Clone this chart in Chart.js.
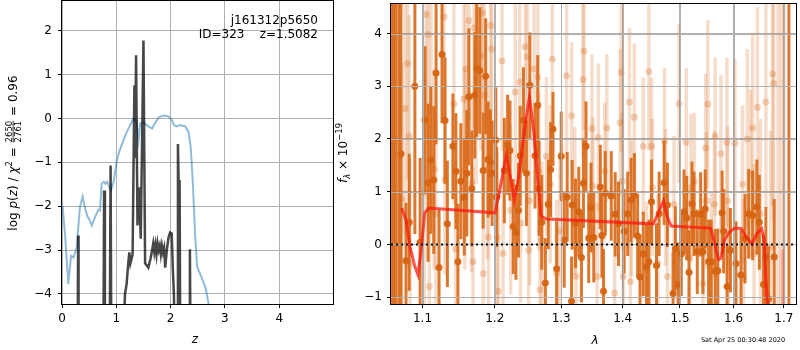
<!DOCTYPE html>
<html>
<head>
<meta charset="utf-8">
<script src="https://cdn.jsdelivr.net/npm/chart.js@4.4.1/dist/chart.umd.min.js"></script>
<style>
body{margin:0;background:#fff;}
#wrap{position:relative;width:800px;height:350px;}
canvas{position:absolute;top:0;}
#left_chart{left:0;}
#right_chart{left:334px;}
</style>
</head>
<body>
<div id="wrap">
<canvas id="left_chart" width="334" height="350"></canvas>
<canvas id="right_chart" width="466" height="350"></canvas>
</div>
<script>
// ---- left panel: log p(z) ----
const blueZ = [0.01,0.055,0.116,0.147,0.166,0.21,0.27,0.33,0.38,0.42,0.47,0.50,0.547,0.61,0.67,0.70,0.73,0.77,0.80,0.83,0.90,0.95,1.01,1.05,1.13,1.19,1.27,1.31,1.37,1.41,1.44,1.50,1.59,1.66,1.70,1.78,1.87,1.96,2.02,2.06,2.11,2.17,2.27,2.33,2.37,2.41,2.45,2.49,2.57,2.64,2.70,2.76,2.85];
const blueLogP = [-1.99,-2.63,-3.77,-3.39,-3.13,-3.17,-2.94,-2.02,-1.78,-2.02,-2.24,-2.29,-2.44,-2.25,-2.08,-2.10,-1.49,-1.44,-1.49,-1.44,-1.64,-1.45,-0.96,-0.77,-0.50,-0.31,-0.12,-0.01,-0.05,-0.50,-0.12,-0.09,-0.18,-0.23,-0.13,0.02,0.07,0.05,-0.03,-0.15,-0.18,-0.15,-0.18,-0.31,-0.65,-1.49,-2.63,-3.39,-3.62,-3.85,-4.23,-4.6,-5.2];

const darkZ = [0.285,0.297,0.305,0.76,0.775,0.79,0.875,0.895,0.91,1.10,1.16,1.19,1.22,1.24,1.26,1.28,1.30,1.333,1.345,1.364,1.39,1.42,1.45,1.50,1.53,1.59,1.63,1.66,1.68,1.70,1.72,1.74,1.76,1.78,1.80,1.82,1.84,1.86,1.88,1.90,1.93,1.96,1.99,2.02,2.04,2.06,2.09,2.12,2.135,2.15,2.165,2.18,2.345,2.355,2.37];
const darkLogP = [-6,-2.67,-6,-6,-1.64,-6,-6,-1.07,-6,-6,-4.0,-3.77,-3.3,-3.05,-3.3,-3.2,-3.1,0.75,-0.9,1.44,-2.44,-1.57,-2.74,1.78,-3.3,-3.4,-3.2,-3.0,-2.85,-3.05,-2.88,-3.1,-2.85,-3.0,-2.9,-3.1,-2.9,-3.05,-2.95,-3.4,-3.0,-2.72,-2.6,-2.62,-3.4,-4.0,-6,-6,-0.58,-1.6,-1.4,-6,-6,-2.98,-6];

const zTicks = [0,1,2,3,4];
const logPTicks = [-4,-3,-2,-1,0,1,2];

// ---- right panel: spectrum ----
const darkLam = [1.0600,1.0625,1.0650,1.0690,1.0718,1.0783,1.0825,1.0899,1.0968,1.1034,
  1.1074,1.1110,1.1150,1.1181,1.1221,1.1261,1.1302,1.1334,1.1410,1.1451,
  1.1479,1.1520,1.1567,1.1603,1.1631,1.1673,1.1715,1.1743,1.1785,1.1833,
  1.1870,1.1904,1.1937,1.1962,1.2015,1.2028,1.2139,1.2187,1.2222,1.2270,
  1.2310,1.2348,1.2373,1.2422,1.2467,1.2518,1.2597,1.2638,1.2658,1.2699,
  1.2754,1.2800,1.2836,1.2872,1.2929,1.3000,1.3047,1.3094,1.3163,1.3173,
  1.3226,1.3278,1.3321,1.3353,1.3395,1.3438,1.3475,1.3520,1.3627,1.3653,
  1.3680,1.3709,1.3808,1.3874,1.3929,1.4024,1.4085,1.4142,1.4198,1.4254,
  1.4295,1.4351,1.4408,1.4449,1.4494,1.4581,1.4628,1.4716,1.4774,1.4875,
  1.4917,1.4965,1.5024,1.5073,1.5122,1.5164,1.5219,1.5255,1.5316,1.5378,
  1.5421,1.5463,1.5526,1.5575,1.5649,1.5700,1.5781,1.5810,1.5876,1.5940,
  1.6047,1.6144,1.6222,1.6294,1.6372,1.6456,1.6504,1.6589,1.6635,1.6689,
  1.6803,1.7103];
const darkFlux = [5.5,5.5,5.5,5.5,1.72,-0.31,0.42,3.00,0.04,2.36,
  1.17,1.60,1.22,3.25,-0.44,3.60,2.35,0.39,1.86,1.39,
  -0.33,1.20,0.89,1.35,2.80,1.06,2.83,3.34,3.30,1.40,
  3.19,1.61,1.56,1.35,1.98,0.90,1.40,1.89,1.78,0.34,
  0.23,0.65,1.68,2.36,1.35,3.02,1.68,2.64,1.06,0.42,
  -0.73,0.76,1.42,2.19,-0.46,1.67,0.08,0.90,-1.08,0.75,
  0.40,0.62,-0.25,1.16,1.86,0.12,0.70,0.13,1.09,0.17,
  -0.89,0.97,0.92,0.57,0.39,0.25,0.58,0.84,0.93,0.16,
  -0.62,-0.18,-0.42,-0.33,0.81,-0.40,0.58,1.17,0.75,-0.93,
  -0.08,-0.76,-0.18,0.62,0.50,-0.53,0.77,0.58,-0.14,0.57,
  -0.14,0.67,-0.33,-0.33,-0.51,-0.50,0.60,0.25,-0.80,-0.11,
  -0.36,-0.58,0.11,0.58,0.55,0.71,0.42,-0.76,-0.24,-1.03,
  -0.24,5.5];
const darkErr = [20,20,20,20,4.0,1.1,1.3,2.8,1.6,1.4,
  1.5,1.4,1.4,1.35,1.1,1.3,1.2,1.2,1.0,1.1,
  1.1,1.1,1.1,1.2,1.3,1.1,1.2,1.3,1.2,1.1,
  1.1,1.1,1.0,1.0,1.0,0.95,1.0,0.95,0.95,0.9,
  0.9,0.9,0.95,1.0,1.0,1.0,1.0,0.95,0.9,0.9,
  0.85,0.85,0.9,0.7,0.9,0.85,0.9,0.85,0.85,0.85,
  0.85,0.85,0.85,0.85,0.85,0.85,0.85,0.85,0.8,0.8,
  0.8,0.8,0.85,0.8,0.8,0.8,0.8,0.8,0.8,0.8,
  0.8,0.8,0.8,0.8,0.8,0.8,0.8,0.8,0.8,0.8,
  0.8,0.8,0.8,0.8,0.8,0.8,0.8,0.8,0.8,0.8,
  0.8,0.75,0.8,0.8,0.8,0.8,0.8,0.8,0.8,0.8,
  0.8,0.85,0.85,0.85,0.85,0.9,0.9,0.95,0.95,1.0,
  1.1,20];

const lightLam = [1.0727,1.0770,1.0805,1.0825,1.0836,1.1023,1.1047,1.1077,1.1090,1.1113,
  1.1156,1.1178,1.1289,1.1300,1.1424,1.1447,1.1560,1.1575,1.1590,1.1634,
  1.1670,1.1690,1.1705,1.1733,1.1801,1.1822,1.1835,1.1850,1.1895,1.1910,
  1.1940,1.1955,1.2036,1.2050,1.2105,1.2120,1.2232,1.2300,1.2366,1.2380,
  1.2450,1.2480,1.2500,1.2515,1.2583,1.2640,1.2655,1.2670,1.2700,1.2770,
  1.2830,1.2862,1.2930,1.2980,1.3085,1.3165,1.3215,1.3235,1.3345,1.3362,
  1.3490,1.3505,1.3575,1.3595,1.3700,1.3735,1.3865,1.3957,1.3975,1.3995,
  1.4010,1.4114,1.4130,1.4150,1.4198,1.4351,1.4408,1.4449,1.4494,1.4510,
  1.4607,1.4723,1.4740,1.4775,1.4893,1.4983,1.5113,1.5172,1.5200,1.5262,
  1.5421,1.5470,1.5485,1.5512,1.5575,1.5636,1.5650,1.5759,1.5871,1.5885,
  1.5900,1.6027,1.6173,1.6190,1.6269,1.6333,1.6372,1.6400,1.6467,1.6525,
  1.6635,1.6730,1.6770,1.6790,1.6880,1.6940,1.7000];
const lightFlux = [0.86,2.58,3.43,2.05,-0.36,0.98,4.36,3.98,-0.80,2.58,
  1.42,0.58,4.32,1.23,2.67,-0.08,2.76,1.42,3.33,4.24,
  1.17,-0.33,4.11,2.94,3.58,4.39,-0.55,2.83,1.42,0.14,
  4.15,3.71,0.13,-0.89,3.48,-0.17,0.65,2.89,3.08,0.40,
  3.75,3.56,-0.11,0.83,3.33,3.17,1.39,-0.86,0.08,1.67,
  1.14,3.51,-0.55,0.26,3.20,2.44,0.83,-0.61,3.13,3.67,
  2.20,1.11,-0.61,2.03,1.39,2.21,-0.92,2.31,3.26,1.20,
  -0.61,2.70,-0.71,0.70,2.41,1.86,-0.49,3.28,1.86,1.08,
  -0.36,1.95,0.89,-0.61,0.76,2.67,1.94,-0.26,1.08,1.20,
  -0.74,1.83,0.83,2.66,-0.42,0.76,2.05,1.72,1.94,0.83,
  -0.80,1.92,1.14,-0.64,2.00,1.33,2.21,-0.17,2.60,0.58,
  2.70,-0.05,3.23,3.05,5.5,5.5,5.5];
const lightErr = [2.6,2.4,2.2,2.3,2.0,2.2,2.3,2.1,2.0,2.0,
  1.9,1.9,2.0,1.8,1.9,1.7,1.8,1.9,1.8,1.9,
  1.7,1.8,1.9,1.8,1.8,1.9,1.7,1.8,1.7,1.8,
  1.8,1.7,1.6,1.6,1.7,1.6,1.6,1.7,1.6,1.5,
  1.7,1.6,1.5,1.6,1.5,1.6,1.5,1.5,1.5,1.5,
  1.5,1.6,1.4,1.5,1.5,1.4,1.4,1.4,1.5,1.5,
  1.4,1.3,1.4,1.4,1.3,1.4,1.3,1.4,1.5,1.3,
  1.3,1.4,1.3,1.3,1.4,1.3,1.3,1.5,1.3,1.3,
  1.3,1.4,1.3,1.3,1.3,1.5,1.4,1.3,1.4,1.3,
  1.4,1.4,1.3,1.6,1.4,1.4,1.5,1.5,1.6,1.4,
  1.5,1.6,1.5,1.5,1.7,1.6,1.8,1.7,1.9,1.8,
  2.0,2.2,2.5,2.6,20,20,20];

const modelLam = [1.0727,1.0783,1.0836,1.0899,1.0940,1.0985,1.1029,1.1083,1.2004,1.2071,1.2170,1.2231,1.2286,1.2356,1.2440,1.2512,1.2583,1.2641,1.2689,1.2778,1.4524,1.4607,1.4703,1.4775,1.4843,1.5563,1.5623,1.5713,1.5762,1.5824,1.5917,1.6024,1.6150,1.6246,1.6362,1.6451,1.6549,1.6602,1.6636,1.6668,1.6690];
const modelFlux = [0.69,0.46,-0.05,-0.42,-0.58,-0.05,0.60,0.69,0.60,1.02,1.70,1.26,0.84,1.33,2.20,2.80,2.08,1.17,0.53,0.48,0.39,0.58,0.82,0.52,0.35,0.31,0.08,-0.29,-0.26,0.08,0.23,0.31,0.30,0.14,0.01,0.20,0.30,0.08,-0.73,-1.11,-2.5];
const fadeLam = [1.6966,1.6975];
const fadeFlux = [-0.1,-3.0];
const zeroLam = [1.059,1.725];
const zeroFlux = [0,0];

const lamTicks = [1.1,1.2,1.3,1.4,1.5,1.6,1.7];
const fluxTicks = [-1,0,1,2,3,4];

Chart.defaults.font.family = '"DejaVu Sans", sans-serif';
Chart.defaults.font.size = 12;
Chart.defaults.color = "#000";

const N = '12px "DejaVu Sans"';
const I = 'italic 12px "DejaVu Sans"';
const S = '8.5px "DejaVu Sans"';
const SI = 'italic 8.5px "DejaVu Sans"';

function pts(xs, ys){
    return xs.map(function(x, i){ return {x: x, y: ys[i]}; });
}

function minus(v){
    return String(v).replace("-", "\u2212");
}

// draws a row of text pieces centred on 0 (used for the rotated labels)
function drawRuns(ctx, runs){
    let total = 0;
    runs.forEach(function(r){
        ctx.font = r.font;
        if(r.frac){
            r.w = Math.max(ctx.measureText(r.frac[0]).width, ctx.measureText(r.frac[1]).width) + 2;
        } else {
            r.w = ctx.measureText(r.t).width;
        }
        total += r.w;
    });
    let x = -total / 2;
    ctx.textAlign = "left";
    runs.forEach(function(r){
        ctx.font = r.font;
        if(r.frac){
            ctx.textAlign = "center";
            ctx.fillText(r.frac[0], x + r.w / 2, -5.5);
            ctx.fillText(r.frac[1], x + r.w / 2, 4.2);
            ctx.textAlign = "left";
            ctx.fillRect(x + 1, -4.3, r.w - 2, 0.8);
        } else {
            ctx.fillText(r.t, x, r.dy || 0);
        }
        x += r.w;
    });
}

function drawFrame(chart){
    const a = chart.chartArea, ctx = chart.ctx;
    ctx.save();
    ctx.strokeStyle = "#000";
    ctx.lineWidth = 1;
    ctx.strokeRect(Math.round(a.left) - 0.5, Math.round(a.top) - 0.5,
        Math.round(a.right - a.left) + 1, Math.round(a.bottom - a.top) + 1);
    ctx.restore();
}

function drawGrid(chart){
    const a = chart.chartArea, ctx = chart.ctx;
    const xs = chart.scales.x, ys = chart.scales.y;
    ctx.save();
    ctx.strokeStyle = "#b0b0b0";
    ctx.lineWidth = 1;
    ctx.beginPath();
    xs.ticks.forEach(function(t){
        const p = Math.round(xs.getPixelForValue(t.value)) + 0.5;
        ctx.moveTo(p, a.top); ctx.lineTo(p, a.bottom);
    });
    ys.ticks.forEach(function(t){
        const p = Math.round(ys.getPixelForValue(t.value)) + 0.5;
        ctx.moveTo(a.left, p); ctx.lineTo(a.right, p);
    });
    ctx.stroke();
    ctx.restore();
}

const errorBars = {
    id: "errorBars",
    beforeDatasetDraw(chart, args){
        const ds = chart.data.datasets[args.index];
        if(!ds.errs) return;
        const xs = chart.scales.x, ys = chart.scales.y, a = chart.chartArea, ctx = chart.ctx;
        ctx.save();
        ctx.beginPath();
        ctx.rect(a.left, a.top, a.right - a.left, a.bottom - a.top);
        ctx.clip();
        ctx.strokeStyle = ds.errColor;
        ctx.lineWidth = ds.errWidth;
        ds.data.forEach(function(p, i){
            const px = xs.getPixelForValue(p.x);
            ctx.beginPath();
            ctx.moveTo(px, ys.getPixelForValue(p.y - ds.errs[i]));
            ctx.lineTo(px, ys.getPixelForValue(p.y + ds.errs[i]));
            ctx.stroke();
        });
        ctx.restore();
    },
    afterDatasetDraw(chart, args){
        const ds = chart.data.datasets[args.index];
        if(ds.gridAfter) drawGrid(chart);
    }
};

function axisGrid(){
    return {color: "#b0b0b0", lineWidth: 1, drawTicks: true, tickLength: 4, tickColor: "#000", tickWidth: 1};
}

function fitX(s){ s.height = 46; s.paddingLeft = 0; s.paddingRight = 0; }
function fitY(w){
    return function(s){ s.width = w; s.paddingTop = 0; s.paddingBottom = 0; };
}

// left chart
new Chart(document.getElementById("left_chart"), {
    type: "scatter",
    data: {
        datasets: [
            {
                data: pts(darkZ, darkLogP), showLine: true, borderColor: "rgba(0,0,0,0.72)",
                borderWidth: 2.5, pointRadius: 0, clip: 0, order: 1
            },
            {
                data: pts(blueZ, blueLogP), showLine: true, borderColor: "rgba(31,119,180,0.5)",
                borderWidth: 2, pointRadius: 0, clip: 0, order: 2
            }
        ]
    },
    options: {
        responsive: false, animation: false, devicePixelRatio: 1,
        layout: {padding: {left: 0, right: 1, top: 1, bottom: 0}},
        plugins: {legend: {display: false}, tooltip: {enabled: false}},
        scales: {
            x: {
                type: "linear", min: 0, max: 4.99,
                afterBuildTicks: function(s){ s.ticks = zTicks.map(function(v){ return {value: v}; }); },
                afterFit: fitX,
                grid: axisGrid(), border: {display: false},
                ticks: {padding: 4, maxRotation: 0, autoSkip: false, callback: minus}
            },
            y: {
                type: "linear", min: -4.23, max: 2.68,
                afterBuildTicks: function(s){ s.ticks = logPTicks.map(function(v){ return {value: v}; }); },
                afterFit: fitY(62),
                grid: axisGrid(), border: {display: false},
                ticks: {padding: 6, autoSkip: false, callback: minus}
            }
        }
    },
    plugins: [{
        id: "leftText",
        afterDraw(chart){
            const ctx = chart.ctx;
            drawFrame(chart);
            ctx.save();
            ctx.fillStyle = "#000";
            ctx.font = N;
            ctx.textAlign = "right";
            ctx.fillText("j161312p5650", 318, 24);
            ctx.fillText("ID=323    z=1.5082", 318, 38);
            ctx.textAlign = "center";
            ctx.font = I;
            ctx.fillText("z", 195, 343);
            ctx.translate(17, 153);
            ctx.rotate(-Math.PI / 2);
            drawRuns(ctx, [
                {t: "log ", font: N}, {t: "p", font: I}, {t: "(", font: N}, {t: "z", font: I},
                {t: ") / ", font: N}, {t: "\u03c7", font: I}, {t: "2", font: S, dy: -5},
                {t: " = ", font: N}, {frac: ["2650", "2761"], font: S}, {t: " = 0.96", font: N}
            ]);
            ctx.restore();
        }
    }]
});

// right chart
new Chart(document.getElementById("right_chart"), {
    type: "scatter",
    data: {
        datasets: [
            {
                data: pts(zeroLam, zeroFlux), showLine: true, borderColor: "#111",
                borderWidth: 2, borderDash: [2, 3], pointRadius: 0, clip: 0, order: 1
            },
            {
                data: pts(modelLam, modelFlux), showLine: true, borderColor: "rgba(255,20,10,0.72)",
                borderWidth: 3, pointRadius: 0, clip: 0, order: 2
            },
            {
                data: pts(fadeLam, fadeFlux), showLine: true, borderColor: "rgba(255,20,10,0.25)",
                borderWidth: 3, pointRadius: 0, clip: 0, order: 3
            },
            {
                data: pts(darkLam, darkFlux), errs: darkErr, errColor: "rgba(216,104,22,0.9)", errWidth: 3,
                gridAfter: true, pointRadius: 3.5, pointBorderWidth: 0,
                backgroundColor: "rgba(214,100,18,0.95)", borderColor: "rgba(0,0,0,0)", clip: 0, order: 4
            },
            {
                data: pts(lightLam, lightFlux), errs: lightErr, errColor: "rgba(215,100,20,0.22)", errWidth: 3.5,
                pointRadius: 3.5, pointBorderWidth: 0,
                backgroundColor: "rgba(215,100,20,0.28)", borderColor: "rgba(0,0,0,0)", clip: 0, order: 5
            }
        ]
    },
    options: {
        responsive: false, animation: false, devicePixelRatio: 1,
        layout: {padding: {left: 0, right: 1, top: 1, bottom: 0}},
        plugins: {legend: {display: false}, tooltip: {enabled: false}},
        scales: {
            x: {
                type: "logarithmic", min: 1.059, max: 1.725,
                afterBuildTicks: function(s){ s.ticks = lamTicks.map(function(v){ return {value: v}; }); },
                afterFit: fitX,
                grid: axisGrid(), border: {display: false},
                ticks: {padding: 4, maxRotation: 0, autoSkip: false, callback: function(v){ return Number(v).toFixed(1); }}
            },
            y: {
                type: "linear", min: -1.13, max: 4.56,
                afterBuildTicks: function(s){ s.ticks = fluxTicks.map(function(v){ return {value: v}; }); },
                afterFit: fitY(57),
                grid: axisGrid(), border: {display: false},
                ticks: {padding: 5, autoSkip: false, callback: minus}
            }
        }
    },
    plugins: [errorBars, {
        id: "rightText",
        afterDraw(chart){
            const ctx = chart.ctx;
            drawFrame(chart);
            ctx.save();
            ctx.fillStyle = "#000";
            ctx.textAlign = "center";
            ctx.font = I;
            ctx.fillText("\u03bb", 261, 344);
            ctx.font = '6.5px "DejaVu Sans"';
            ctx.fillText("Sat Apr 25 00:30:48 2020", 409, 342);
            ctx.translate(13, 153);
            ctx.rotate(-Math.PI / 2);
            drawRuns(ctx, [
                {t: "f", font: I}, {t: "\u03bb", font: SI, dy: 3}, {t: " \u00d7 10", font: N},
                {t: "\u221219", font: S, dy: -5}
            ]);
            ctx.restore();
        }
    }]
});
</script>
</body>
</html>
